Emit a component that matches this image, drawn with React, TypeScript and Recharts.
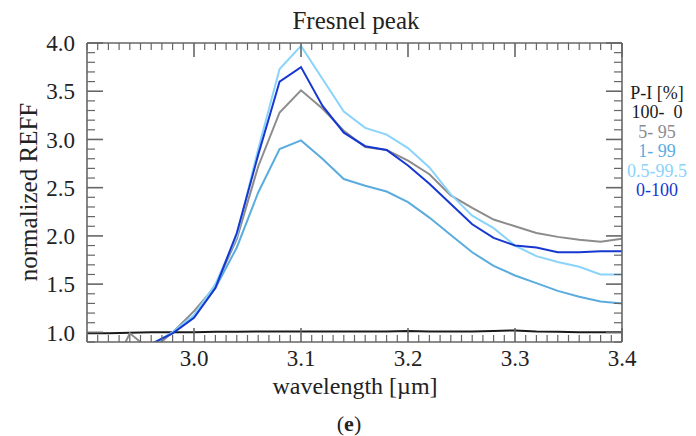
import React from "react";
import { LineChart, Line, XAxis, YAxis } from "recharts";

// wavelength grid [µm]
const wavelength = [
  2.90, 2.92, 2.94, 2.96, 2.98, 3.00, 3.02, 3.04, 3.06, 3.08, 3.10, 3.12, 3.14,
  3.16, 3.18, 3.20, 3.22, 3.24, 3.26, 3.28, 3.30, 3.32, 3.34, 3.36, 3.38, 3.40,
];

// normalized REFF per P-I mixture
const pi100_0 = [
  0.99, 0.99, 0.995, 1.0, 1.0, 1.0, 1.005, 1.005, 1.01, 1.01, 1.01, 1.01, 1.01,
  1.01, 1.01, 1.015, 1.01, 1.01, 1.01, 1.015, 1.02, 1.01, 1.005, 1.0, 1.0, 1.0,
];
const pi5_95 = [
  0.5, 0.53, 0.99, 0.81, 1.0, 1.22, 1.48, 1.97, 2.72, 3.28, 3.51, 3.32, 3.09,
  2.92, 2.89, 2.78, 2.64, 2.42, 2.29, 2.17, 2.10, 2.03, 1.99, 1.96, 1.94, 1.97,
];
const pi1_99 = [
  0.7, 0.72, 0.78, 0.87, 1.0, 1.17, 1.46, 1.88, 2.45, 2.90, 2.99, 2.80, 2.59,
  2.52, 2.46, 2.35, 2.19, 2.01, 1.83, 1.69, 1.59, 1.51, 1.43, 1.37, 1.32, 1.30,
];
const pi05_995 = [
  0.7, 0.72, 0.78, 0.87, 1.0, 1.18, 1.50, 2.00, 2.90, 3.73, 3.97, 3.63, 3.29,
  3.12, 3.05, 2.91, 2.71, 2.43, 2.21, 2.08, 1.90, 1.79, 1.73, 1.68, 1.60, 1.60,
];
const pi0_100 = [
  0.7, 0.72, 0.78, 0.88, 0.99, 1.15, 1.46, 2.03, 2.84, 3.60, 3.75, 3.35, 3.07,
  2.93, 2.89, 2.73, 2.54, 2.33, 2.12, 1.98, 1.90, 1.88, 1.83, 1.83, 1.84, 1.84,
];

const xLabels = [3.0, 3.1, 3.2, 3.3, 3.4];
const yLabels = [1.0, 1.5, 2.0, 2.5, 3.0, 3.5, 4.0];
const xMinor = Array.from({ length: 51 }, (_, i) => +(2.9 + i * 0.01).toFixed(2));
const yMinor = Array.from({ length: 32 }, (_, i) => +(0.9 + i * 0.1).toFixed(1));

const legendRows = [
  { label: "P-I [%]", color: "#1a1a1a" },
  { label: "100-  0", color: "#1a1a1a" },
  { label: "5- 95", color: "#8c8c8c" },
  { label: "1- 99", color: "#5aacdf" },
  { label: "0.5-99.5", color: "#8ad3fb" },
  { label: "0-100", color: "#1638d0" },
];

const series = [
  { key: "a", values: pi100_0, color: "#1a1a1a" },
  { key: "b", values: pi5_95, color: "#8c8c8c" },
  { key: "c", values: pi1_99, color: "#5aacdf" },
  { key: "d", values: pi05_995, color: "#8ad3fb" },
  { key: "e", values: pi0_100, color: "#1638d0" },
];

const data = wavelength.map((w, i) => {
  const row: any = { w };
  series.forEach(s => (row[s.key] = s.values[i]));
  return row;
});

const FONT = "Liberation Serif, Times New Roman, serif";
const FRAME = "#666";
const XD: [number, number] = [2.9, 3.4];
const YD: [number, number] = [0.9, 4.0];

// chart box
const W = 696, H = 436;
const M = { top: 43, right: 74, bottom: 64, left: 37 };
const X_AXIS_H = 30, Y_AXIS_W = 50;
const PLOT_L = M.left + Y_AXIS_W;
const PLOT_R = W - M.right;
const PLOT_T = M.top;
const PLOT_B = H - M.bottom - X_AXIS_H;

const isMajor = (v: number, list: number[]) => list.some(t => Math.abs(t - v) < 1e-6);

// x tick: label for majors + inward marks on bottom and top edges
function XTick(props: any) {
  const { x, y, payload } = props;
  const cx = payload.coordinate ?? x;
  const major = isMajor(payload.value, xLabels);
  const len = major ? 14 : 7;
  const sw = major ? 1.6 : 1.2;
  return (
    <g>
      <line x1={cx} x2={cx} y1={PLOT_B} y2={PLOT_B - len} stroke={FRAME} strokeWidth={sw} />
      <line x1={cx} x2={cx} y1={PLOT_T} y2={PLOT_T + len} stroke={FRAME} strokeWidth={sw} />
      {major && (
        <text x={cx} y={y} dy="0.71em" textAnchor="middle" fontSize={23} fill="#222" fontFamily={FONT}>
          {payload.value.toFixed(1)}
        </text>
      )}
    </g>
  );
}

// y tick: label for majors + inward marks on left and right edges
function YTick(props: any) {
  const { x, y, payload } = props;
  const cy = payload.coordinate ?? y;
  const major = isMajor(payload.value, yLabels);
  const len = major ? 16 : 8;
  const sw = major ? 1.6 : 1.2;
  return (
    <g>
      <line x1={PLOT_L} x2={PLOT_L + len} y1={cy} y2={cy} stroke={FRAME} strokeWidth={sw} />
      <line x1={PLOT_R} x2={PLOT_R - len} y1={cy} y2={cy} stroke={FRAME} strokeWidth={sw} />
      {major && (
        <text x={x} y={cy} dy="0.355em" textAnchor="end" fontSize={23} fill="#222" fontFamily={FONT}>
          {payload.value.toFixed(1)}
        </text>
      )}
    </g>
  );
}

const border = { stroke: FRAME, strokeWidth: 1.6 };

export default function App() {
  return (
    <div style={{ position: "relative", width: W, height: H, background: "#fff" }}>
      <style>{"body{margin:0}"}</style>
      <LineChart width={W} height={H} data={data} margin={M}>
        {/* main axes: every minor tick goes through the axis scale */}
        <XAxis dataKey="w" type="number" domain={XD} allowDataOverflow ticks={xMinor} interval={0}
          minTickGap={0} tick={<XTick />} tickLine={false} axisLine={false}
          tickSize={0} tickMargin={8} height={X_AXIS_H} />
        <YAxis type="number" domain={YD} allowDataOverflow ticks={yMinor} interval={0}
          minTickGap={0} tick={<YTick />} tickLine={false} axisLine={false}
          tickSize={0} tickMargin={12} width={Y_AXIS_W} />

        {/* frame border lines */}
        <XAxis xAxisId="bB" type="number" domain={XD} allowDataOverflow orientation="bottom" mirror height={1}
          tick={false} tickLine={false} axisLine={border} />
        <XAxis xAxisId="tB" type="number" domain={XD} allowDataOverflow orientation="top" mirror height={1}
          tick={false} tickLine={false} axisLine={border} />
        <YAxis yAxisId="lB" type="number" domain={YD} allowDataOverflow orientation="left" mirror width={1}
          tick={false} tickLine={false} axisLine={border} />
        <YAxis yAxisId="rB" type="number" domain={YD} allowDataOverflow orientation="right" mirror width={1}
          tick={false} tickLine={false} axisLine={border} />

        {series.map(s => (
          <Line key={s.key} type="linear" dataKey={s.key} stroke={s.color} strokeWidth={2}
            dot={false} activeDot={false} isAnimationActive={false} />
        ))}
      </LineChart>

      {/* titles, axis names, legend */}
      <svg width={W} height={H} style={{ position: "absolute", left: 0, top: 0, pointerEvents: "none" }}
        fontFamily={FONT}>
        <text x={356} y={29} textAnchor="middle" fontSize={25} fill="#222">Fresnel peak</text>
        <text transform="translate(37,192) rotate(-90)" textAnchor="middle" fontSize={25} fill="#222">normalized REFF</text>
        <text x={355} y={394} textAnchor="middle" fontSize={24} fill="#222">wavelength [µm]</text>
        {legendRows.map((r, i) => (
          <text key={r.label} x={657} y={99 + i * 19.4} textAnchor="middle" fontSize={18} fill={r.color}
            style={{ whiteSpace: "pre" }}>{r.label}</text>
        ))}
        <text x={349} y={431} textAnchor="middle" fontSize={22} fill="#222">
          (<tspan fontWeight="bold">e</tspan>)
        </text>
      </svg>
    </div>
  );
}
